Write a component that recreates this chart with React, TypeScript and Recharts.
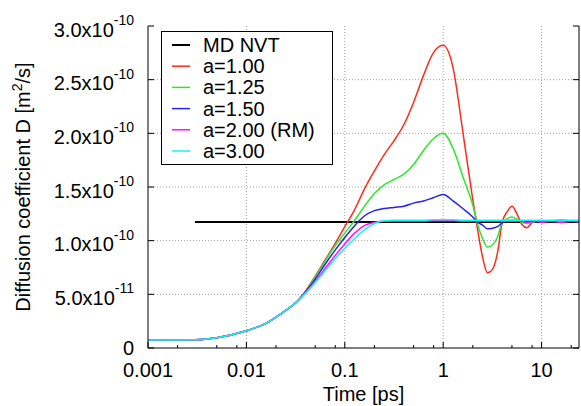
import React from 'react';
import { LineChart, Line, XAxis, YAxis, ReferenceLine, Legend } from 'recharts';

const FONT = '"Liberation Sans", Arial, Helvetica, sans-serif';

// Time [ps]
const times = [0.001, 0.002, 0.003, 0.005, 0.01, 0.0158, 0.0251, 0.0316, 0.0398, 0.0501, 0.0631, 0.0794, 0.1, 0.126, 0.158, 0.2, 0.251, 0.316, 0.398, 0.501, 0.631, 0.794, 1.0, 1.26, 1.58, 2.0, 2.24, 2.51, 2.82, 3.16, 3.55, 3.98, 4.47, 5.01, 5.62, 6.31, 7.08, 7.94, 8.91, 10, 12.6, 15.8, 20, 24];

// Diffusion coefficient, in units of 1e-10 m^2/s
const a100 = [0.075, 0.075, 0.076, 0.095, 0.16, 0.23, 0.35, 0.42, 0.53, 0.67, 0.82, 0.97, 1.13, 1.29, 1.48, 1.65, 1.80, 1.93, 2.08, 2.29, 2.54, 2.75, 2.82, 2.61, 2.02, 1.38, 1.10, 0.85, 0.70, 0.73, 0.88, 1.17, 1.27, 1.32, 1.25, 1.15, 1.12, 1.165, 1.18, 1.18, 1.18, 1.18, 1.18, 1.18];
const a125 = [0.075, 0.075, 0.076, 0.095, 0.16, 0.23, 0.35, 0.42, 0.52, 0.66, 0.81, 0.95, 1.07, 1.19, 1.32, 1.44, 1.52, 1.57, 1.62, 1.71, 1.84, 1.95, 2.0, 1.86, 1.60, 1.33, 1.15, 1.02, 0.94, 0.96, 1.03, 1.17, 1.205, 1.22, 1.20, 1.17, 1.16, 1.17, 1.18, 1.18, 1.18, 1.18, 1.18, 1.18];
const a150 = [0.075, 0.075, 0.076, 0.095, 0.16, 0.23, 0.35, 0.42, 0.52, 0.64, 0.78, 0.91, 1.03, 1.14, 1.23, 1.28, 1.30, 1.31, 1.32, 1.35, 1.37, 1.40, 1.43, 1.37, 1.30, 1.22, 1.17, 1.145, 1.11, 1.115, 1.13, 1.165, 1.185, 1.19, 1.185, 1.18, 1.18, 1.185, 1.185, 1.185, 1.185, 1.19, 1.185, 1.185];
const a200 = [0.075, 0.075, 0.076, 0.095, 0.16, 0.23, 0.35, 0.42, 0.51, 0.62, 0.74, 0.86, 0.97, 1.07, 1.14, 1.17, 1.18, 1.18, 1.18, 1.18, 1.18, 1.185, 1.185, 1.185, 1.18, 1.18, 1.18, 1.18, 1.18, 1.18, 1.18, 1.18, 1.18, 1.18, 1.18, 1.18, 1.17, 1.175, 1.18, 1.17, 1.18, 1.17, 1.18, 1.175];
const a300 = [0.075, 0.075, 0.076, 0.095, 0.16, 0.23, 0.35, 0.42, 0.51, 0.61, 0.72, 0.83, 0.93, 1.02, 1.10, 1.16, 1.185, 1.19, 1.19, 1.19, 1.19, 1.195, 1.195, 1.195, 1.19, 1.19, 1.19, 1.19, 1.19, 1.19, 1.19, 1.19, 1.19, 1.19, 1.19, 1.19, 1.19, 1.19, 1.19, 1.19, 1.19, 1.19, 1.19, 1.19];

// MD NVT reference
const mdTimes = [0.003, 24];
const mdValues = [1.175, 1.175];

const seriesKeys = ['a100', 'a125', 'a150', 'a200', 'a300'];
const seriesNames = ['a=1.00', 'a=1.25', 'a=1.50', 'a=2.00 (RM)', 'a=3.00'];
const seriesColors = ['#ff2a1a', '#2ee82e', '#2424f0', '#ff10ff', '#10f4f4'];
const mdName = 'MD NVT';
const mdColor = '#000000';

const xMajor = [0.001, 0.01, 0.1, 1, 10];
const xMajorLabels = ['0.001', '0.01', '0.1', '1', '10'];
const xMinor = [0.002, 0.005, 0.008, 0.02, 0.05, 0.08, 0.2, 0.5, 0.8, 2, 5, 8, 20];
const xTicks = [...xMajor, ...xMinor].sort((a, b) => a - b);
const xGrid = [0.01, 0.1, 1, 10];

const yTicks = [0, 0.5, 1, 1.5, 2, 2.5, 3];
const yMantissa = ['0', '5.0x10', '1.0x10', '1.5x10', '2.0x10', '2.5x10', '3.0x10'];
const yExponent = ['', '-11', '-10', '-10', '-10', '-10', '-10'];
const yGrid = [0.5, 1, 1.5, 2, 2.5];

const data = times.map((t, i) => ({
  t,
  a100: a100[i],
  a125: a125[i],
  a150: a150[i],
  a200: a200[i],
  a300: a300[i],
}));
const mdData = mdTimes.map((t, i) => ({ t, md: mdValues[i] }));

function BottomTick(props: any) {
  const { x, y, payload } = props;
  const i = xMajor.indexOf(payload.value);
  const len = i >= 0 ? 6 : 3;
  return (
    <g>
      <line x1={x} x2={x} y1={y} y2={y - len} stroke="#000" strokeWidth={1} />
      {i >= 0 && (
        <text x={x} y={y + 29} textAnchor="middle" fontSize={20} fontFamily={FONT} fill="#000">
          {xMajorLabels[i]}
        </text>
      )}
    </g>
  );
}

function TopTick(props: any) {
  const { x, y, payload } = props;
  const len = xMajor.indexOf(payload.value) >= 0 ? 6 : 3;
  return <line x1={x} x2={x} y1={y} y2={y + len} stroke="#000" strokeWidth={1} />;
}

function LeftTick(props: any) {
  const { x, y, payload } = props;
  const i = yTicks.indexOf(payload.value);
  const hasExp = i >= 0 && yExponent[i] !== '';
  return (
    <g>
      <line x1={x} x2={x + 6} y1={y} y2={y} stroke="#000" strokeWidth={1} />
      {i >= 0 && (
        <text x={134} y={y + (hasExp ? 10.5 : 7)} textAnchor="end" fontSize={20} fontFamily={FONT} fill="#000">
          {yMantissa[i]}
          {hasExp && (
            <tspan dy={-11.5} fontSize={14}>
              {yExponent[i]}
            </tspan>
          )}
        </text>
      )}
    </g>
  );
}

function RightTick(props: any) {
  const { x, y } = props;
  return <line x1={x} x2={x - 6} y1={y} y2={y} stroke="#000" strokeWidth={1} />;
}

function XTitle(props: any) {
  const vb = props.viewBox || { x: 148, y: 348, width: 431, height: 58 };
  return (
    <text x={vb.x + vb.width / 2} y={vb.y + 53} textAnchor="middle" fontSize={20} fontFamily={FONT} fill="#000">
      Time [ps]
    </text>
  );
}

function YTitle(props: any) {
  const vb = props.viewBox || { x: 0, y: 26, width: 148, height: 322 };
  const cx = vb.x + 30;
  const cy = vb.y + vb.height / 2;
  return (
    <text x={cx} y={cy} transform={`rotate(-90 ${cx} ${cy})`} textAnchor="middle" fontSize={20} fontFamily={FONT} fill="#000">
      Diffusion coefficient D [m
      <tspan dy={-8} fontSize={14}>2</tspan>
      <tspan dy={8}>/s]</tspan>
    </text>
  );
}

function LegendBox() {
  const names = [mdName, ...seriesNames];
  const colors = [mdColor, ...seriesColors];
  return (
    <svg width={174} height={136} style={{ display: 'block' }}>
      <rect x={0.5} y={0.5} width={171} height={133} fill="#fff" stroke="#000" strokeWidth={1} />
      {names.map((n, i) => {
        const cy = 14 + i * 21.2;
        return (
          <g key={n}>
            <line x1={11} x2={29} y1={cy} y2={cy} stroke={colors[i]} strokeWidth={i === 0 ? 2 : 1.5} />
            <text x={42} y={cy + 7} fontSize={20} fontFamily={FONT} fill="#000">
              {n}
            </text>
          </g>
        );
      })}
    </svg>
  );
}

export default function App() {
  return (
    <div style={{ position: 'absolute', left: 0, top: 0, width: 581, height: 406, background: '#fff', fontFamily: FONT }}>
      <LineChart width={581} height={406} data={data} margin={{ top: 26, right: 0, bottom: 0, left: 0 }}>
        <XAxis
          dataKey="t"
          type="number"
          scale="log"
          domain={[0.001, 24]}
          allowDataOverflow
          ticks={xTicks}
          interval={0}
          tick={<BottomTick />}
          tickLine={false}
          tickSize={0}
          tickMargin={0}
          height={58}
          axisLine={{ stroke: '#000', strokeWidth: 1 }}
          label={<XTitle />}
        />
        <XAxis
          xAxisId="top"
          orientation="top"
          dataKey="t"
          type="number"
          scale="log"
          domain={[0.001, 24]}
          allowDataOverflow
          ticks={xTicks}
          interval={0}
          tick={<TopTick />}
          tickLine={false}
          tickSize={0}
          tickMargin={0}
          height={0}
          axisLine={{ stroke: '#000', strokeWidth: 1 }}
        />
        <YAxis
          type="number"
          domain={[0, 3]}
          allowDataOverflow
          ticks={yTicks}
          interval={0}
          tick={<LeftTick />}
          tickLine={false}
          tickSize={0}
          tickMargin={0}
          width={148}
          axisLine={{ stroke: '#000', strokeWidth: 1 }}
          label={<YTitle />}
        />
        <YAxis
          yAxisId="right"
          orientation="right"
          type="number"
          domain={[0, 3]}
          allowDataOverflow
          ticks={yTicks}
          interval={0}
          tick={<RightTick />}
          tickLine={false}
          tickSize={0}
          tickMargin={0}
          width={2}
          axisLine={{ stroke: '#000', strokeWidth: 1 }}
        />
        {xGrid.map((v) => (
          <ReferenceLine key={'gx' + v} x={v} stroke="#a0a0a0" strokeDasharray="1 2" strokeWidth={1} />
        ))}
        {yGrid.map((v) => (
          <ReferenceLine key={'gy' + v} y={v} stroke="#a0a0a0" strokeDasharray="1 2" strokeWidth={1} />
        ))}
        <Line data={mdData} dataKey="md" name={mdName} stroke={mdColor} strokeWidth={2} dot={false} type="linear" isAnimationActive={false} />
        {seriesKeys.map((k, i) => (
          <Line
            key={k}
            dataKey={k}
            name={seriesNames[i]}
            stroke={seriesColors[i]}
            strokeWidth={1.5}
            dot={false}
            type="monotone"
            isAnimationActive={false}
          />
        ))}
        <Legend
          layout="vertical"
          verticalAlign="middle"
          align="center"
          content={() => <LegendBox />}
          wrapperStyle={{ left: 161, top: 31, width: 174, height: 136 }}
        />
      </LineChart>
    </div>
  );
}
